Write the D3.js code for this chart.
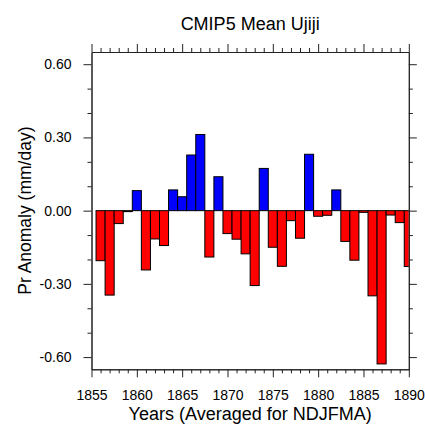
<!DOCTYPE html>
<html>
<head>
<meta charset="utf-8">
<script src="https://cdn.jsdelivr.net/npm/d3@7"></script>
<style>
  html, body { margin: 0; padding: 0; background: #fff; }
  svg { display: block; font-family: "Liberation Sans", Arial, Helvetica, sans-serif; }
</style>
</head>
<body>
<svg id="chart" width="425" height="424"></svg>
<script>
// Yearly precipitation anomaly (mm/day), NDJFMA average
const years = [1856, 1857, 1858, 1859, 1860, 1861, 1862, 1863, 1864, 1865,
               1866, 1867, 1868, 1869, 1870, 1871, 1872, 1873, 1874, 1875,
               1876, 1877, 1878, 1879, 1880, 1881, 1882, 1883, 1884, 1885,
               1886, 1887, 1888, 1889, 1890];
const anomalies = [-0.205, -0.346, -0.053, -0.004, 0.082, -0.243, -0.116, -0.143, 0.085, 0.057,
                   0.228, 0.312, -0.190, 0.139, -0.094, -0.117, -0.177, -0.307, 0.173, -0.150,
                   -0.228, -0.041, -0.113, 0.231, -0.023, -0.019, 0.085, -0.126, -0.203, -0.007,
                   -0.349, -0.628, -0.018, -0.049, -0.229];

const xMajorTicks = [1855, 1860, 1865, 1870, 1875, 1880, 1885, 1890];
const yMajorTicks = [-0.6, -0.3, 0.0, 0.3, 0.6];
const yTickLabels = ["-0.60", "-0.30", "0.00", "0.30", "0.60"];

const titleText = "CMIP5 Mean Ujiji";
const xTitle = "Years (Averaged for NDJFMA)";
const yTitle = "Pr Anomaly (mm/day)";

const svg = d3.select("#chart");
const plotL = 91.5, plotR = 408.8, plotT = 52, plotB = 369.3;

const x = d3.scaleLinear().domain([1855, 1890]).range([plotL, plotR]);
const y = d3.scaleLinear().domain([-0.65, 0.65]).range([plotB, plotT]);

const xMinor = d3.range(1855, 1891).filter(v => v % 5 !== 0);
const yMinor = d3.range(-6, 7).map(v => v / 10).filter(v => Math.round(v * 10) % 3 !== 0);

// Bars, clipped to the plot frame
svg.append("defs").append("clipPath").attr("id", "plotClip")
  .append("rect").attr("x", plotL).attr("y", plotT)
  .attr("width", plotR - plotL).attr("height", plotB - plotT);

svg.append("g").attr("clip-path", "url(#plotClip)")
  .selectAll("rect").data(years.map((yr, i) => ({ yr, v: anomalies[i] })))
  .join("rect")
  .attr("x", d => x(d.yr - 0.5))
  .attr("width", d => x(d.yr + 0.5) - x(d.yr - 0.5))
  .attr("y", d => y(Math.max(0, d.v)))
  .attr("height", d => Math.abs(y(d.v) - y(0)))
  .attr("fill", d => d.v >= 0 ? "#0000ff" : "#ff0000")
  .attr("stroke", "#000")
  .attr("stroke-width", 1);

// Axes: major ticks 8px, minor ticks 4px, outward on every side
function styleAxis(g) {
  g.attr("font-family", null);
  g.selectAll("path.domain").attr("stroke", "#222");
  g.selectAll(".tick line").attr("stroke", "#222");
}
function addAxis(axisFn, scale, values, size, transform, labels) {
  const ax = axisFn(scale).tickValues(values).tickSizeInner(size).tickSizeOuter(0).tickPadding(labels ? 5 : 0);
  if (labels) ax.tickFormat(labels); else ax.tickFormat("");
  const g = svg.append("g").attr("transform", transform).call(ax);
  styleAxis(g);
  return g;
}

addAxis(d3.axisBottom, x, xMinor, 4, `translate(0,${plotB})`);
addAxis(d3.axisTop, x, xMinor, 4, `translate(0,${plotT})`);
addAxis(d3.axisLeft, y, yMinor, 4, `translate(${plotL},0)`);
addAxis(d3.axisRight, y, yMinor, 4, `translate(${plotR},0)`);
addAxis(d3.axisTop, x, xMajorTicks, 8, `translate(0,${plotT})`);
addAxis(d3.axisRight, y, yMajorTicks, 8, `translate(${plotR},0)`);

const gx = addAxis(d3.axisBottom, x, xMajorTicks, 8, `translate(0,${plotB})`, d => String(d));
gx.selectAll("text").attr("font-size", 14).attr("fill", "#000")
  .attr("dy", null).attr("y", 31);

const gy = addAxis(d3.axisLeft, y, yMajorTicks, 8, `translate(${plotL},0)`,
  d => yTickLabels[yMajorTicks.indexOf(d)]);
gy.selectAll("text").attr("font-size", 14).attr("fill", "#000").attr("x", -20);

// Titles
svg.append("text").attr("x", (plotL + plotR) / 2).attr("y", 30)
  .attr("text-anchor", "middle").attr("font-size", 18).attr("fill", "#000")
  .text(titleText);

svg.append("text").attr("x", (plotL + plotR) / 2).attr("y", 419.5)
  .attr("text-anchor", "middle").attr("font-size", 18).attr("fill", "#000")
  .text(xTitle);

svg.append("text")
  .attr("transform", `translate(31,${(plotT + plotB) / 2}) rotate(-90)`)
  .attr("text-anchor", "middle").attr("font-size", 17.5).attr("fill", "#000")
  .text(yTitle);
</script>
</body>
</html>
